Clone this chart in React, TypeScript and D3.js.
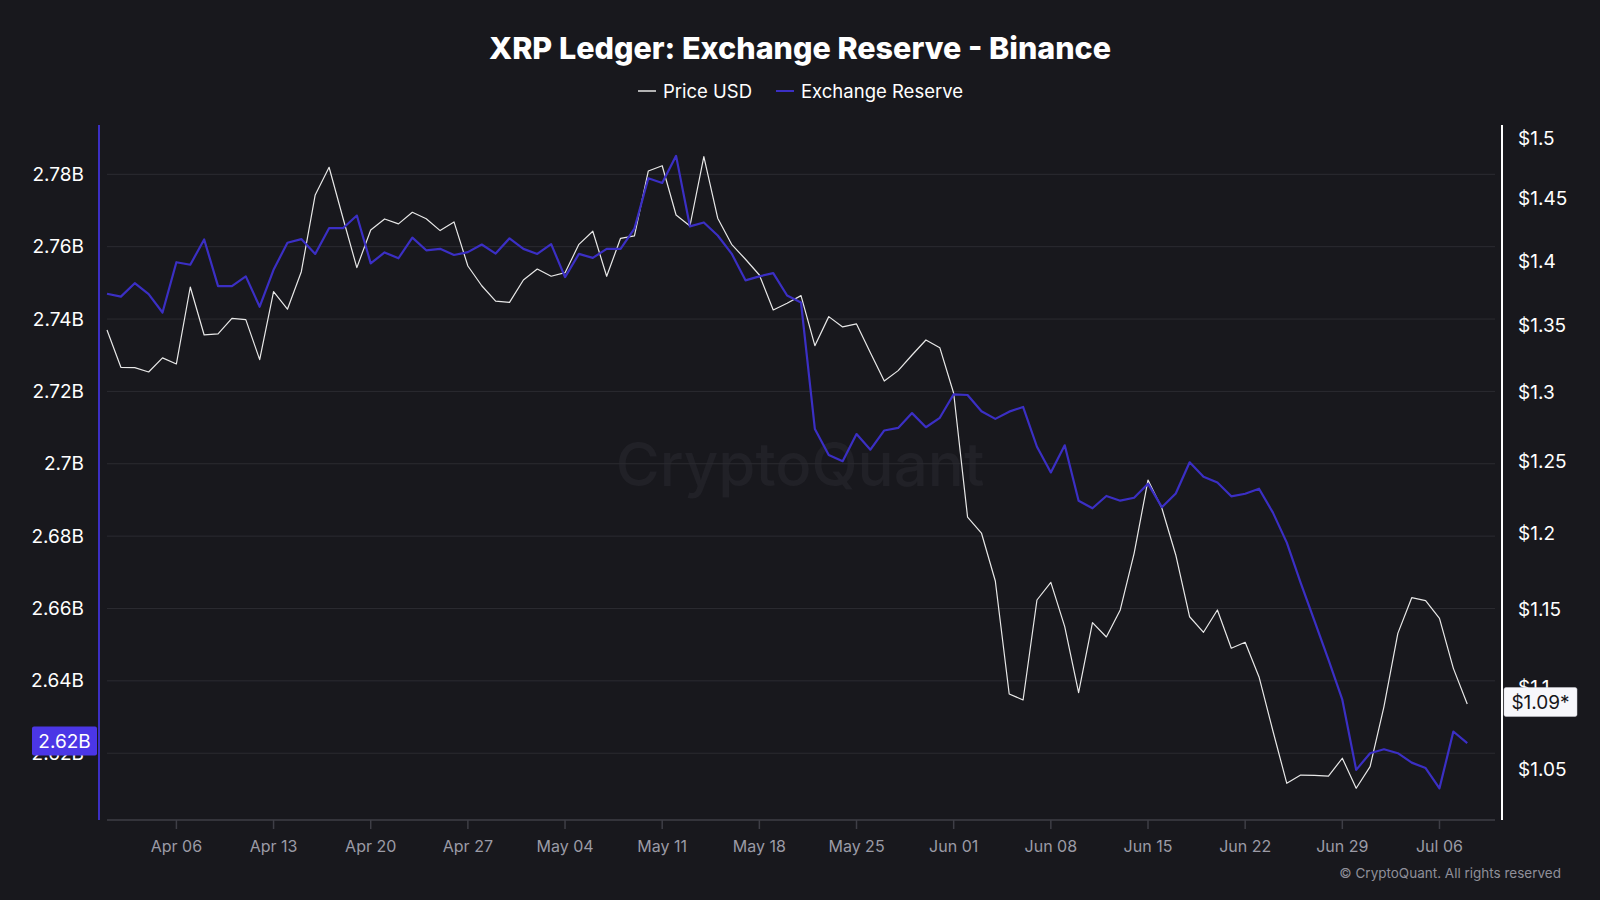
import { useEffect } from 'react';
import * as d3 from 'd3';

// daily values, 2025-04-01 .. 2025-07-08
const exchangeReserve = [
  2.7470, 2.7462, 2.7499, 2.7469, 2.7418, 2.7557, 2.7550, 2.7620, 2.7491, 2.7491,
  2.7518, 2.7434, 2.7536, 2.7611, 2.7621, 2.7580, 2.7651, 2.7651, 2.7686, 2.7554,
  2.7584, 2.7568, 2.7625, 2.7590, 2.7594, 2.7577, 2.7585, 2.7606, 2.7581, 2.7623,
  2.7594, 2.7580, 2.7607, 2.7516, 2.7580, 2.7569, 2.7594, 2.7594, 2.7650, 2.7789,
  2.7776, 2.7851, 2.7656, 2.7667, 2.7631, 2.7581, 2.7507, 2.7518, 2.7527, 2.7465,
  2.7446, 2.7096, 2.7024, 2.7007, 2.7082, 2.7039, 2.7092, 2.7099, 2.7140, 2.7101,
  2.7127, 2.7192, 2.7190, 2.7145, 2.7124, 2.7144, 2.7157, 2.7047, 2.6976, 2.7051,
  2.6898, 2.6877, 2.6911, 2.6898, 2.6906, 2.6945, 2.6880, 2.6918, 2.7004, 2.6964,
  2.6948, 2.6910, 2.6917, 2.6931, 2.6865, 2.6782, 2.6671, 2.6565, 2.6459, 2.6348,
  2.6154, 2.6200, 2.6211, 2.6200, 2.6174, 2.6159, 2.6103, 2.6260, 2.6228,
];

const priceUsd = [
  1.3465, 1.3184, 1.3181, 1.3149, 1.3254, 1.3209, 1.3796, 1.3427, 1.3435, 1.3554,
  1.3544, 1.3241, 1.3760, 1.3624, 1.3916, 1.4533, 1.4762, 1.4345, 1.3948, 1.4248,
  1.4337, 1.4297, 1.4391, 1.4339, 1.4243, 1.4313, 1.3961, 1.3806, 1.3687, 1.3677,
  1.3851, 1.3937, 1.3880, 1.3908, 1.4133, 1.4238, 1.3880, 1.4181, 1.4200, 1.4731,
  1.4775, 1.4369, 1.4280, 1.4851, 1.4343, 1.4133, 1.4014, 1.3890, 1.3618, 1.3670,
  1.3729, 1.3346, 1.3567, 1.3488, 1.3511, 1.3293, 1.3082, 1.3159, 1.3276, 1.3389,
  1.3331, 1.2992, 1.2114, 1.2005, 1.1684, 1.0961, 1.0924, 1.1559, 1.1675, 1.1386,
  1.0969, 1.1412, 1.1320, 1.1494, 1.1868, 1.2370, 1.2174, 1.1857, 1.1450, 1.1350,
  1.1494, 1.1248, 1.1286, 1.1067, 1.0734, 1.0421, 1.0470, 1.0468, 1.0464, 1.0570,
  1.0392, 1.0520, 1.0883, 1.1343, 1.1574, 1.1555, 1.1440, 1.1121, 1.0899,
];

const reserveTicks = [2.62, 2.64, 2.66, 2.68, 2.7, 2.72, 2.74, 2.76, 2.78];
const priceTicks = [1.05, 1.1, 1.15, 1.2, 1.25, 1.3, 1.35, 1.4, 1.45, 1.5];

const START = Date.UTC(2025, 3, 1);
const DAY = 864e5;
const dates = exchangeReserve.map((_, i) => new Date(START + i * DAY));

const W = 1600;
const H = 900;
const BG = '#18181d';
const PURPLE = '#3b2fc4';
const FONT = 'Inter, "Noto Sans", sans-serif';

export default function App() {
  useEffect(() => {
    document.body.style.margin = '0';
    document.body.style.background = BG;
  }, []);

  const plotTop = 125;
  const plotBottom = 820;
  const x = d3.scaleUtc()
    .domain([new Date(START), new Date(START + 100 * DAY)])
    .range([107, 1495]);
  const yL = d3.scaleLinear().domain([2.60154, 2.79363]).range([plotBottom, plotTop]);
  const yR = d3.scaleLog().domain([1.02074, 1.5119]).range([plotBottom, plotTop]);

  const reserveLine = d3.line<number>()
    .x((_, i) => x(dates[i]))
    .y(d => yL(d));
  const priceLine = d3.line<number>()
    .x((_, i) => x(dates[i]))
    .y(d => yR(d));

  const xTicks = d3.utcWeek.every(1)!.range(new Date(START + DAY), new Date(START + 100 * DAY));
  const fmtDate = d3.utcFormat('%b %d');

  const lastRes = exchangeReserve[exchangeReserve.length - 1];
  const lastPrice = priceUsd[priceUsd.length - 1];
  const resY = yL(lastRes) - 2;
  const priceY = yR(lastPrice) - 2;

  return (
    <div style={{ position: 'fixed', inset: 0, background: BG }}>
      <svg width={W} height={H} style={{ display: 'block', fontFamily: FONT }}>
        <rect width={W} height={H} fill={BG} />

        <text x={800} y={47} textAnchor="middle" dominantBaseline="central"
          fill="#ffffff" fontSize={30.5} fontWeight={800}>
          XRP Ledger: Exchange Reserve - Binance
        </text>

        <g fontSize={18.5} fill="#ffffff">
          <line x1={638} x2={656} y1={91} y2={91} stroke="#e6e6e6" strokeWidth={1.5} />
          <text x={663} y={91} dominantBaseline="central">Price USD</text>
          <line x1={776} x2={794} y1={91} y2={91} stroke={PURPLE} strokeWidth={2} />
          <text x={801} y={91} dominantBaseline="central">Exchange Reserve</text>
        </g>

        <text x={800} y={464} textAnchor="middle" dominantBaseline="central"
          fill="#212127" fontSize={60} fontWeight={500}>
          CryptoQuant
        </text>

        {reserveTicks.map(t => (
          <line key={'g' + t} x1={107} x2={1495} y1={yL(t)} y2={yL(t)} stroke="#2b2b31" strokeWidth={1} />
        ))}

        <line x1={107} x2={1495} y1={plotBottom} y2={plotBottom} stroke="#3e3e46" strokeWidth={1.5} />
        {xTicks.map(d => (
          <g key={d.getTime()}>
            <line x1={x(d)} x2={x(d)} y1={plotBottom} y2={plotBottom + 9} stroke="#3e3e46" strokeWidth={1.5} />
            <text x={x(d)} y={846} textAnchor="middle" dominantBaseline="central"
              fill="#9b9ba6" fontSize={16}>{fmtDate(d)}</text>
          </g>
        ))}

        <path d={priceLine(priceUsd) ?? ''} fill="none" stroke="#e8e8e8" strokeWidth={1.2} strokeLinejoin="round" />
        <path d={reserveLine(exchangeReserve) ?? ''} fill="none" stroke={PURPLE} strokeWidth={2.2} strokeLinejoin="round" />

        <line x1={99} x2={99} y1={plotTop} y2={plotBottom} stroke={PURPLE} strokeWidth={2} />
        {reserveTicks.map(t => (
          <text key={'l' + t} x={84} y={yL(t)} textAnchor="end" dominantBaseline="central"
            fill="#ffffff" fontSize={19}>{`${+t.toFixed(2)}B`}</text>
        ))}

        <line x1={1502} x2={1502} y1={plotTop} y2={plotBottom} stroke="#ffffff" strokeWidth={2} />
        {priceTicks.map(t => (
          <text key={'r' + t} x={1518} y={yR(t)} dominantBaseline="central"
            fill="#ffffff" fontSize={19}>{`$${+t.toFixed(2)}`}</text>
        ))}

        <rect x={32} y={resY - 14.5} width={65} height={29} rx={2} fill="#4b36e6" />
        <text x={64.5} y={resY} textAnchor="middle" dominantBaseline="central"
          fill="#ffffff" fontSize={19}>{`${lastRes.toFixed(2)}B`}</text>

        <rect x={1504} y={priceY - 14.5} width={73} height={29} rx={2} fill="#f7f7fb" stroke="#d0d0d8" strokeWidth={0.5} />
        <text x={1540.5} y={priceY} textAnchor="middle" dominantBaseline="central"
          fill="#16161a" fontSize={19}>{`$${lastPrice.toFixed(2)}*`}</text>

        <text x={1561} y={873} textAnchor="end" dominantBaseline="central"
          fill="#8f8f99" fontSize={13.5}>© CryptoQuant. All rights reserved</text>
      </svg>
    </div>
  );
}
